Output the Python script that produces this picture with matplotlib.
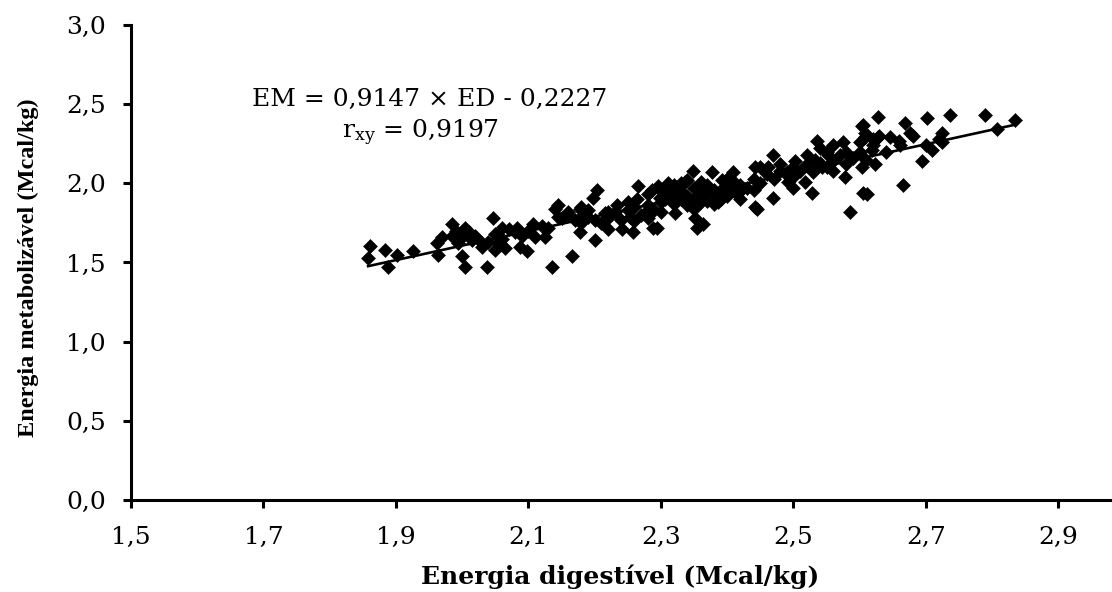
import matplotlib
matplotlib.use("Agg")
import matplotlib.pyplot as plt
import numpy as np

plt.rcParams['font.family'] = ['DejaVu Serif']
plt.rcParams['mathtext.fontset'] = 'dejavuserif'

ed = [1.861, 1.858, 1.883, 1.888, 1.902, 1.926, 1.962, 1.963, 1.985, 1.985, 1.994,
      2.046, 2.004, 2.000, 2.000, 2.004, 2.015, 2.037, 2.039, 2.054, 2.060, 2.065,
      2.083, 2.087, 2.098, 2.107, 2.125, 2.135, 2.140, 2.145, 2.030, 2.050,
      2.203, 2.197, 2.145, 2.160, 2.178, 2.178, 2.200, 2.166, 2.190, 2.215, 2.234,
      2.220, 2.241, 2.258, 2.265, 2.264, 2.286, 2.288, 2.299, 2.276, 2.253,
      2.348, 2.377, 2.409, 2.442, 2.295, 2.310, 2.336, 2.332, 2.321, 2.351, 2.354,
      2.363, 2.366, 2.392, 2.386, 2.415, 2.442, 2.294, 2.306,
      2.535, 2.469, 2.560, 2.575, 2.603, 2.608, 2.461, 2.502, 2.490, 2.532, 2.543,
      2.552, 2.492, 2.499, 2.528, 2.578, 2.469, 2.445, 2.585, 2.605, 2.517,
      2.628, 2.702, 2.736, 2.789, 2.605, 2.608, 2.668, 2.676, 2.628, 2.646, 2.724,
      2.724, 2.661, 2.709, 2.807, 2.619, 2.623, 2.603, 2.694, 2.665, 2.611, 2.834,
      1.970, 1.990, 2.010, 2.020, 2.030, 2.050, 2.070, 2.080, 2.100, 2.110, 2.130,
      2.150, 2.160, 2.170, 2.180, 2.190, 2.200, 2.210, 2.220, 2.230, 2.240, 2.250,
      2.260, 2.270, 2.280, 2.290, 2.300, 2.310, 2.320, 2.330, 2.340, 2.340, 2.350,
      2.350, 2.360, 2.370, 2.370, 2.380, 2.390, 2.400, 2.400, 2.410, 2.420, 2.430,
      2.440, 2.450, 2.460, 2.470, 2.480, 2.490, 2.500, 2.510, 2.520, 2.530, 2.540,
      2.550, 2.550, 2.560, 2.570, 2.580, 2.590, 2.600, 2.610, 2.620, 2.640, 2.660,
      2.680, 2.700, 2.720, 2.630, 2.330, 2.380, 2.360, 2.320, 2.400, 2.420, 2.440,
      2.310, 2.320, 2.330, 2.340, 2.350, 2.360, 2.370, 2.380, 2.390, 2.410, 2.420,
      2.260, 2.280, 2.300, 2.220, 2.180, 2.120, 2.090, 2.060, 2.520, 2.540, 2.560,
      2.580, 2.500, 2.480, 2.450, 2.620, 2.600, 2.280, 2.300, 2.250, 2.180]
em = [1.602, 1.530, 1.580, 1.470, 1.550, 1.570, 1.620, 1.550, 1.740, 1.670, 1.620,
      1.780, 1.720, 1.660, 1.540, 1.470, 1.640, 1.470, 1.630, 1.620, 1.720, 1.590,
      1.720, 1.600, 1.570, 1.740, 1.660, 1.470, 1.840, 1.790, 1.600, 1.580,
      1.960, 1.910, 1.860, 1.820, 1.840, 1.690, 1.640, 1.540, 1.790, 1.810, 1.860,
      1.710, 1.710, 1.690, 1.980, 1.900, 1.960, 1.720, 1.910, 1.810, 1.790,
      2.080, 2.070, 2.070, 2.100, 1.980, 2.000, 2.010, 1.910, 1.810, 1.780, 1.720,
      1.740, 1.950, 2.020, 1.880, 1.930, 1.850, 1.720, 1.900,
      2.270, 2.180, 2.240, 2.260, 2.360, 2.290, 2.100, 2.140, 2.070, 2.150, 2.100,
      2.180, 2.010, 1.970, 1.940, 2.040, 1.910, 1.840, 1.820, 1.940, 2.010,
      2.420, 2.410, 2.430, 2.430, 2.370, 2.320, 2.380, 2.320, 2.290, 2.290, 2.320,
      2.260, 2.240, 2.210, 2.340, 2.210, 2.120, 2.100, 2.140, 1.990, 1.930, 2.400,
      1.660, 1.700, 1.690, 1.670, 1.620, 1.680, 1.710, 1.690, 1.700, 1.660, 1.720,
      1.780, 1.800, 1.770, 1.790, 1.830, 1.770, 1.750, 1.780, 1.820, 1.770, 1.830,
      1.850, 1.800, 1.860, 1.830, 1.880, 1.930, 1.870, 1.950, 1.920, 1.860, 1.970,
      1.900, 1.940, 1.890, 1.990, 1.930, 1.960, 1.920, 1.990, 2.010, 1.950, 1.970,
      2.030, 2.000, 2.060, 2.030, 2.080, 2.050, 2.100, 2.080, 2.120, 2.070, 2.130,
      2.100, 2.200, 2.140, 2.180, 2.120, 2.160, 2.200, 2.150, 2.240, 2.200, 2.270,
      2.300, 2.240, 2.280, 2.300, 2.000, 1.960, 1.880, 1.930, 2.030, 1.990, 1.960,
      1.960, 1.990, 1.900, 2.020, 1.840, 2.010, 1.960, 1.870, 1.900, 1.960, 1.900,
      1.760, 1.780, 1.820, 1.820, 1.750, 1.730, 1.670, 1.650, 2.180, 2.220, 2.080,
      2.200, 2.040, 2.120, 2.100, 2.280, 2.260, 1.930, 1.950, 1.880, 1.850]

slope = 0.9147
intercept = -0.2227
r_xy = 0.9197

x_ticks = [1.5, 1.7, 1.9, 2.1, 2.3, 2.5, 2.7, 2.9]
y_ticks = [0.0, 0.5, 1.0, 1.5, 2.0, 2.5, 3.0]

def fmt(v):
    return f"{v:.1f}".replace('.', ',')

fig = plt.figure(figsize=(11.12, 5.92), dpi=100)
ax = fig.add_axes([0.1178, 0.1554, 0.8822, 0.8024])

ax.plot(ed, em, linestyle='none', marker='D', markersize=7.4,
        markerfacecolor='black', markeredgecolor='black', markeredgewidth=0.4)

xl = np.array([min(ed), max(ed)])
ax.plot(xl, slope * xl + intercept, color='black', linewidth=1.9)

ax.set_xlim(1.5, 2.981)
ax.set_ylim(0.0, 3.0)
ax.set_xticks(x_ticks)
ax.set_xticklabels([fmt(v) for v in x_ticks])
ax.set_yticks(y_ticks)
ax.set_yticklabels([fmt(v) for v in y_ticks])

for s in ['top', 'right']:
    ax.spines[s].set_visible(False)
for s in ['left', 'bottom']:
    ax.spines[s].set_linewidth(2.2)
ax.tick_params(axis='both', direction='out', length=6, width=2.2, labelsize=18)
ax.tick_params(axis='x', pad=13)
ax.tick_params(axis='y', pad=12)

ax.set_xlabel('Energia digestível (Mcal/kg)', fontsize=18, fontweight='bold')
ax.xaxis.set_label_coords(0.4985, -0.162)
ax.xaxis.label.set_va('center')
ax.set_ylabel('Energia metabolizável (Mcal/kg)', fontsize=17.5, fontweight='bold',
              family='Liberation Serif')
ax.yaxis.set_label_coords(-0.105, 0.49)
ax.yaxis.label.set_va('center')

ax.text(1.951, 2.527, f"EM = {slope:.4f} × ED - {abs(intercept):.4f}".replace('.', ','),
        fontsize=18, ha='center', va='center')
ax.text(1.937, 2.318, r"r$_{\mathrm{xy}}$ = " + f"{r_xy:.4f}".replace('.', ','),
        fontsize=18, ha='center', va='center')

fig.savefig('out.png', dpi=100)
